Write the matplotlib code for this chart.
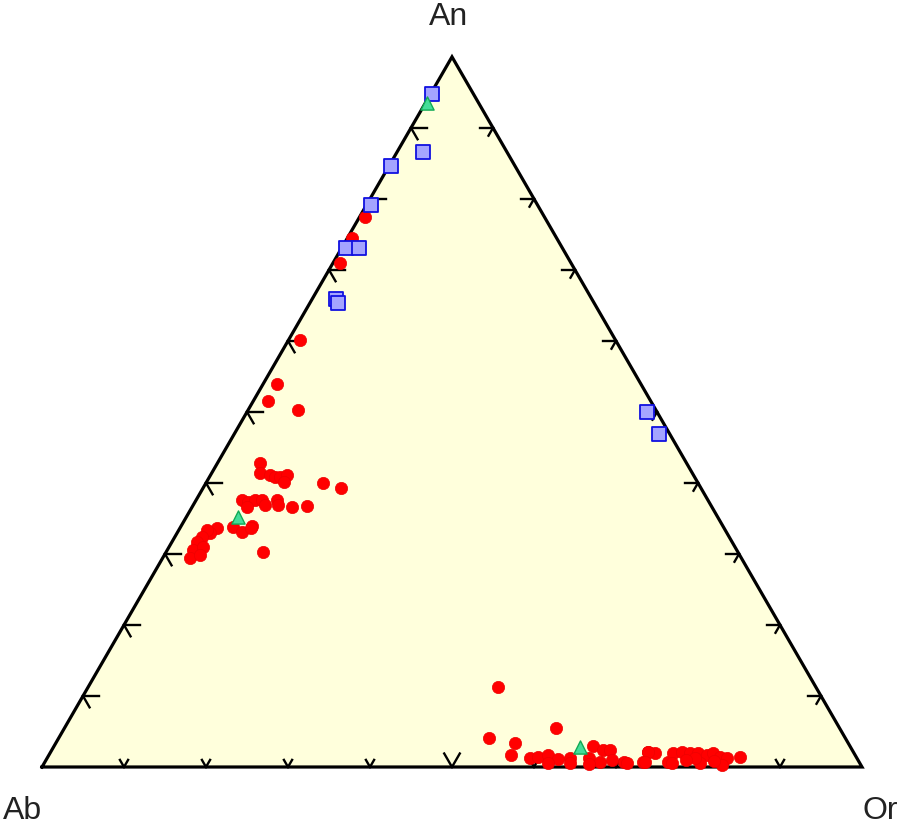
"""Ternary feldspar plot (Ab - An - Or) drawn with plain matplotlib"""

import numpy as np
import matplotlib.pyplot as plt

# compositions in percent, Ab = 100 - An - Or
red_an = [77.5, 74.5, 71.0, 60.1, 53.9, 51.5, 50.3,
          42.8, 41.4, 41.1, 40.8, 40.8, 41.1, 40.1, 40.0, 39.3,
          37.6, 37.3, 37.6, 37.6, 36.9, 36.6, 37.6, 36.9, 36.6, 36.8,
          33.8, 33.1, 33.9, 33.7, 30.3,
          33.7, 33.0, 33.4, 32.4, 31.7, 30.6, 29.4, 31.0, 29.9,
          11.3, 4.1, 5.5, 3.4, 1.7, 1.3, 1.4, 1.7, 1.1, 1.3, 0.6,
          3.0, 1.3, 2.4, 2.4, 0.7, 1.0, 0.7, 0.6, 2.1, 2.0, 0.7, 0.7,
          2.1, 0.7, 2.0, 2.1, 2.0, 2.0, 1.7, 2.0, 1.4, 1.3, 1.4,
          0.6, 0.6, 0.3, 1.3, 0.5, 0.4, 1.0, 0.8]
red_or = [0.7, 0.6, 0.8, 1.4, 1.7, 1.8, 6.1,
          5.2, 5.9, 7.2, 8.0, 8.6, 9.3, 9.5, 14.3, 16.8,
          5.6, 6.5, 7.2, 8.0, 8.8, 6.7, 9.9, 10.3, 12.2, 13.9,
          6.4, 7.9, 8.7, 8.6, 11.8,
          4.5, 4.0, 3.4, 3.3, 3.1, 3.1, 3.4, 4.1, 4.3,
          49.9, 52.5, 59.9, 56.0, 56.4, 58.9, 59.8, 60.9, 62.4, 63.8, 64.1,
          65.7, 66.0, 67.2, 68.1, 67.7, 69.0, 70.6, 71.1, 72.8, 73.8, 73.0, 76.0,
          72.9, 73.2, 76.0, 77.0, 78.0, 79.0, 80.3, 80.8, 82.0, 82.9, 84.4,
          76.5, 80.0, 82.8, 79.0, 61.5, 66.5, 78.0, 81.5]

blue_an = [94.8, 86.6, 84.7, 79.2, 73.1, 73.1, 65.9, 65.4, 50.0, 46.9]
blue_or = [0.2, 3.2, 0.2, 0.5, 0.5, 2.1, 2.9, 3.4, 48.8, 51.8]

green_an = [93.5, 35.2, 2.8]
green_or = [0.2, 6.3, 64.2]

H = np.sqrt(3) / 2


def to_xy(an, orth):
    an = np.asarray(an) / 100.0
    orth = np.asarray(orth) / 100.0
    return orth + an / 2, an * H


fig = plt.figure(figsize=(8.98, 8.32), dpi=100)
ax = fig.add_axes([0, 0, 1, 1])
ax.set_xlim(-42 / 820, 856 / 820)
ax.set_ylim(-65 / 820, 767 / 820)
ax.set_aspect("equal")
ax.axis("off")

# triangle
tri_x = [0, 1, 0.5, 0]
tri_y = [0, 0, H, 0]
ax.fill(tri_x, tri_y, color="#FFFFDC", zorder=0)
ax.plot(tri_x, tri_y, color="black", lw=2.3, zorder=3, solid_joinstyle="miter")

# tick marks every 10 %
d_dn_r = np.array([0.5, -H])
for k in range(1, 10):
    f = k / 10
    # bottom edge: V shaped
    L = 0.019 if k == 5 else 0.010
    p = np.array([f, 0.0])
    for d in (np.array([-0.5, H]), np.array([0.5, H])):
        q = p + d * L
        ax.plot([p[0], q[0]], [p[1], q[1]], color="black", lw=1.7, zorder=3)
    # left edge: horizontal + down-right
    p = np.array([f / 2, f * H])
    for d, L in ((np.array([1.0, 0.0]), 0.020), (d_dn_r, 0.016)):
        q = p + d * L
        ax.plot([p[0], q[0]], [p[1], q[1]], color="black", lw=1.7, zorder=3)
    # right edge: horizontal left + down-left
    p = np.array([1 - f / 2, f * H])
    for d, L in ((np.array([-1.0, 0.0]), 0.016), (np.array([-0.5, -H]), 0.011)):
        q = p + d * L
        ax.plot([p[0], q[0]], [p[1], q[1]], color="black", lw=1.7, zorder=3)

# data
x, y = to_xy(red_an, red_or)
ax.scatter(x, y, s=78, marker="o", color="#FF0000", edgecolors="#EE0000",
           linewidths=0.5, zorder=4)
x, y = to_xy(blue_an, blue_or)
ax.scatter(x, y, s=115, marker="s", color="#A4A4FF", edgecolors="#1010E0",
           linewidths=1.3, zorder=5)
x, y = to_xy(green_an, green_or)
ax.scatter(x, y, s=90, marker="^", color="#44DD99", edgecolors="#11AA55",
           linewidths=1.0, zorder=5)

# apex labels
lab = dict(fontsize=23, color="#222222", family=["Liberation Sans", "DejaVu Sans"],
           ha="center", va="center")
ax.text(0.5 - 3 / 820, H + 40 / 820, "An", **lab)
ax.text(-19 / 820, -44 / 820, "Ab", **lab)
ax.text(1 + 18 / 820, -44 / 820, "Or", **lab)

fig.savefig("out.png", dpi=100)
